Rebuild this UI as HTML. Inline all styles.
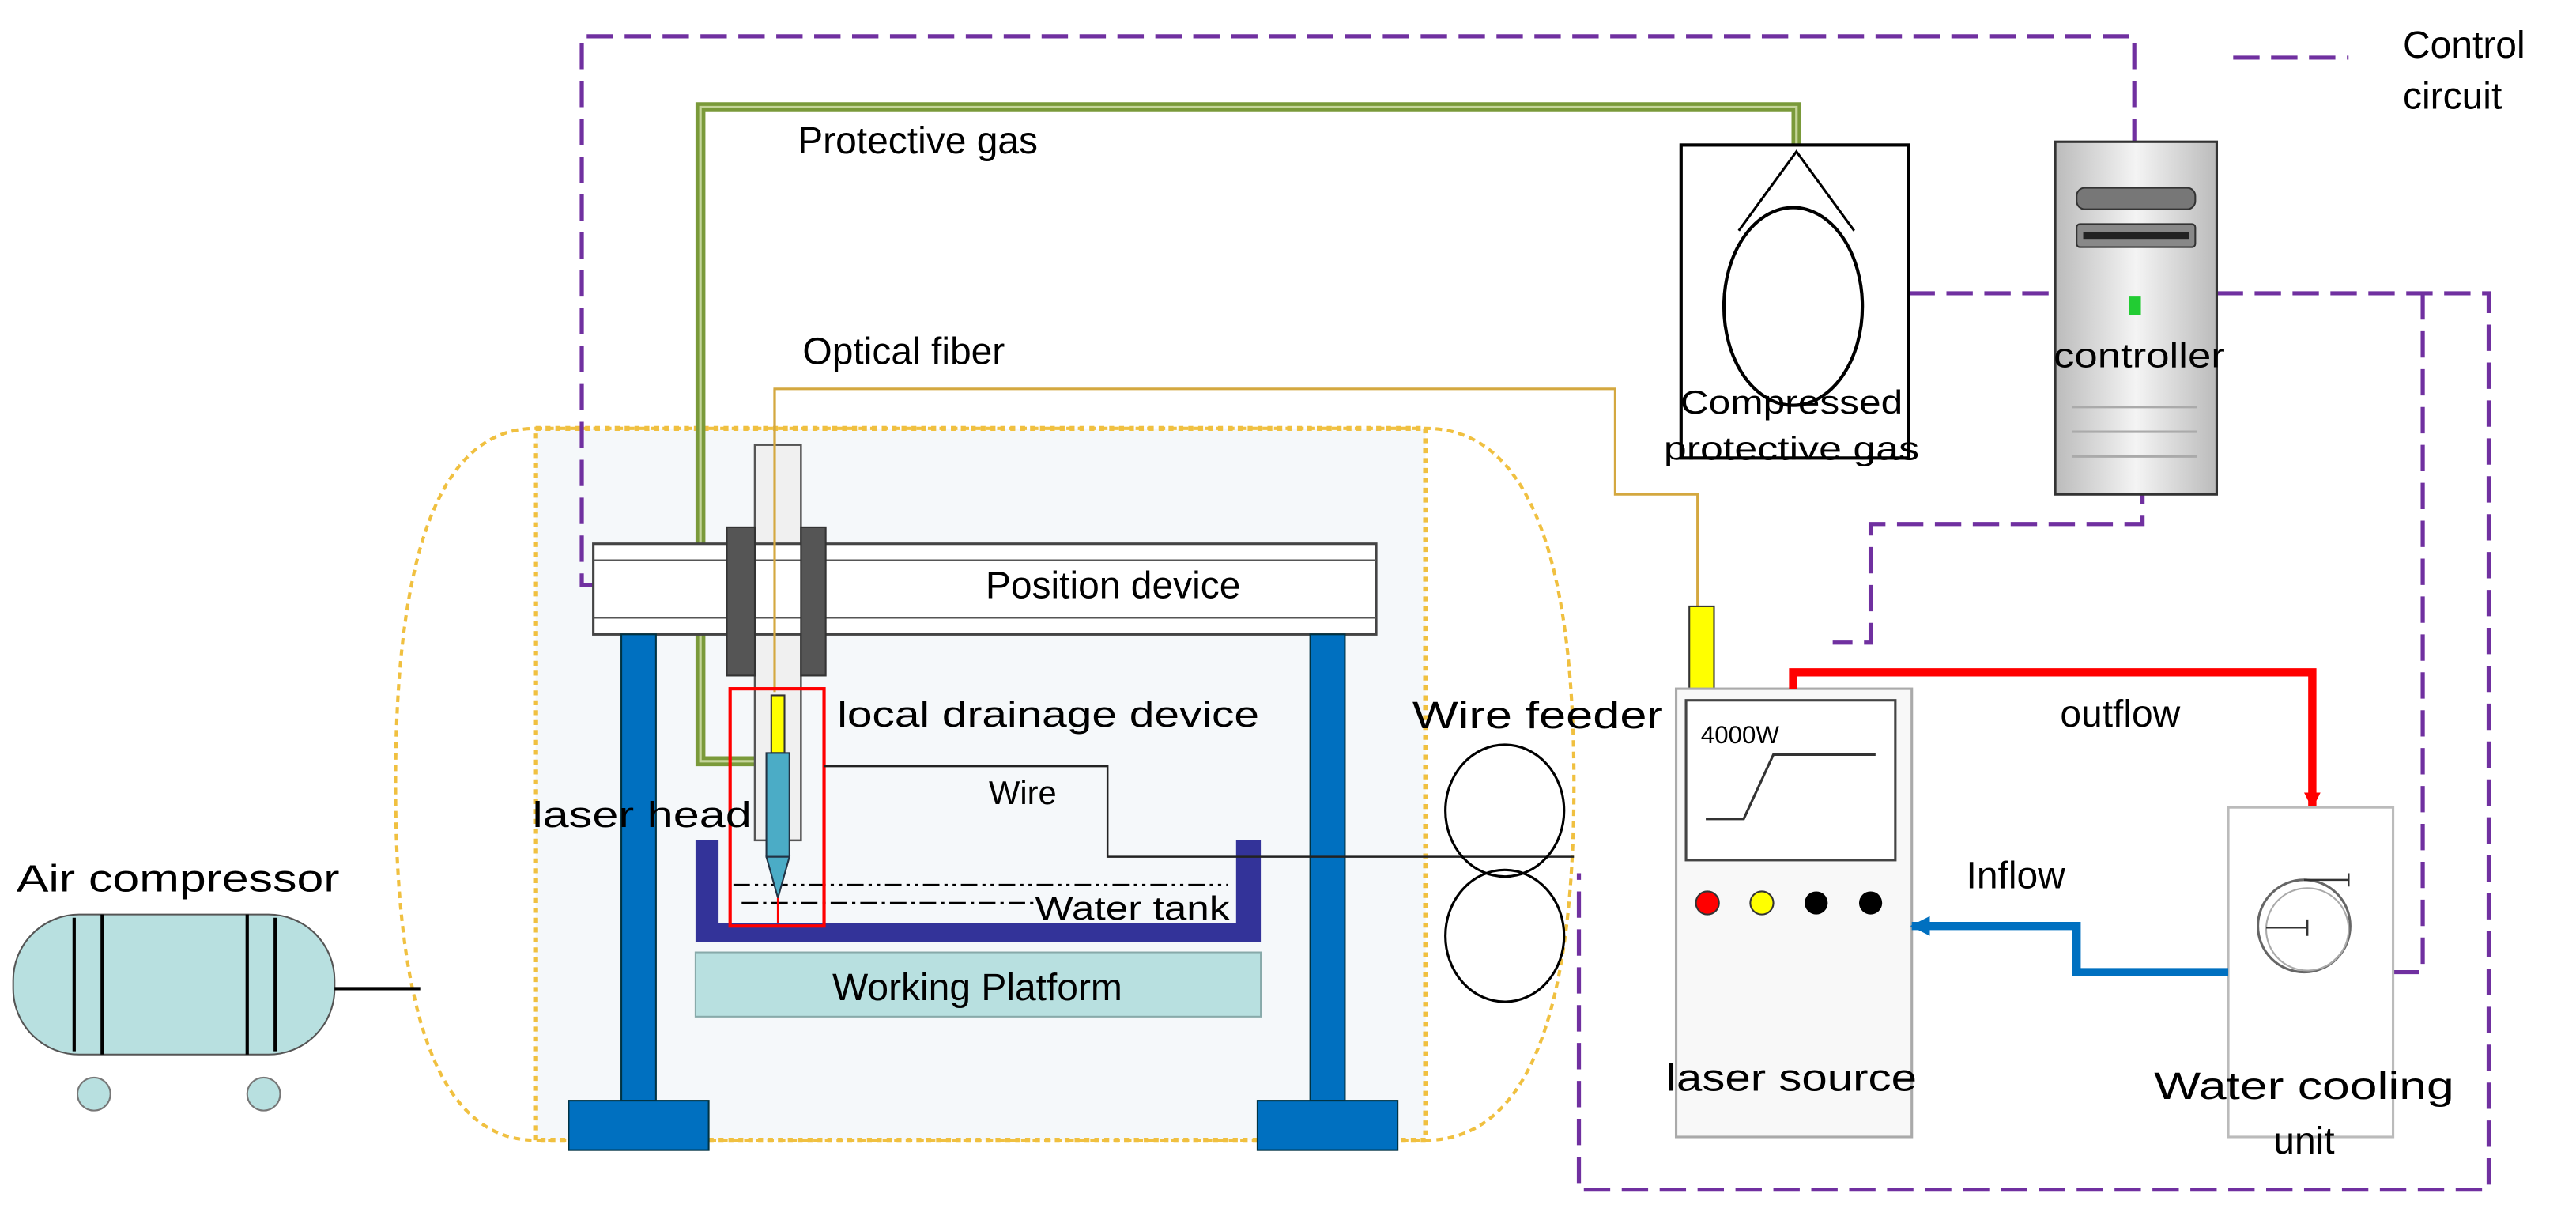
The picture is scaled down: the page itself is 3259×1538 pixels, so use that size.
<!DOCTYPE html>
<html><head><meta charset="utf-8"><style>html,body{margin:0;padding:0;background:#fff}svg{display:block}text{font-family:"Liberation Sans",sans-serif;fill:#000}</style></head>
<body>
<svg width="3259" height="1538" viewBox="0 0 1563 738" preserveAspectRatio="none" xmlns="http://www.w3.org/2000/svg">
<defs>
<linearGradient id="g1" x1="0" x2="1"><stop offset="0" stop-color="#bbb"/><stop offset="0.5" stop-color="#f4f4f4"/><stop offset="1" stop-color="#bbb"/></linearGradient>
<marker id="ar" markerWidth="10" markerHeight="14" refX="9" refY="7" orient="auto" markerUnits="userSpaceOnUse"><path d="M0,2 L10,7 L0,12z" fill="#f00"/></marker>
<marker id="ab" markerWidth="12" markerHeight="14" refX="11" refY="7" orient="auto" markerUnits="userSpaceOnUse"><path d="M0,1 L12,7 L0,13z" fill="#0070c0"/></marker>
</defs>
<rect x="325" y="260" width="540" height="432" fill="#f5f8fa"/>
<path d="M325,260 L865,260 Q955,260 955,476 Q955,692 865,692 L325,692 Q240,692 240,476 Q240,260 325,260Z" fill="none" stroke="#f0c040" stroke-width="2" stroke-dasharray="4,3"/>
<rect x="325" y="260" width="540" height="432" fill="none" stroke="#f0c040" stroke-width="3" stroke-dasharray="3,3"/>
<g fill="none" stroke="#7030a0" stroke-width="2.5" stroke-dasharray="16,7">
<path d="M1295,88 L1295,22 L353,22 L353,355 L360,355"/>
<path d="M1158,178 L1247,178"/>
<path d="M1345,178 L1510,178 L1510,722 L958,722 L958,530"/>
<path d="M1470,178 L1470,590 L1452,590"/>
<path d="M1300,290 L1300,318 L1135,318 L1135,390 L1112,390"/>
<path d="M1355,35 L1425,35"/>
</g>
<text x="1458" y="35" font-size="23">Control</text>
<text x="1458" y="66" font-size="23">circuit</text>
<path d="M1090,92 L1090,65 L425,65 L425,462 L470,462" fill="none" stroke="#7a9a3a" stroke-width="6"/>
<path d="M1090,92 L1090,65 L425,65 L425,462 L470,462" fill="none" stroke="#c5d59a" stroke-width="1.5"/>
<text x="484" y="93" font-size="23">Protective gas</text>
<rect x="1020" y="88" width="138" height="190" fill="#fff" stroke="#000" stroke-width="2"/>
<path d="M1055,140 L1090,92 L1125,140" fill="none" stroke="#000" stroke-width="1.5"/>
<ellipse cx="1088" cy="186" rx="42" ry="60" fill="none" stroke="#000" stroke-width="2"/>
<text x="1087" y="251" font-size="20" text-anchor="middle" textLength="135" lengthAdjust="spacingAndGlyphs">Compressed</text>
<text x="1087" y="279" font-size="20" text-anchor="middle" textLength="155" lengthAdjust="spacingAndGlyphs">protective gas</text>
<rect x="1247" y="86" width="98" height="214" fill="url(#g1)" stroke="#333" stroke-width="1.5"/>
<rect x="1260" y="114" width="72" height="13" rx="5" fill="#777" stroke="#333"/>
<rect x="1260" y="136" width="72" height="14" rx="2" fill="#888" stroke="#333"/>
<rect x="1264" y="141" width="64" height="4" fill="#222"/>
<rect x="1292" y="180" width="7" height="11" fill="#22cc33"/>
<text x="1298" y="223" font-size="21" text-anchor="middle" textLength="104" lengthAdjust="spacingAndGlyphs">controller</text>
<path d="M1257,247 H1333 M1257,262 H1333 M1257,277 H1333" stroke="#aaa" stroke-width="1.5"/>
<text x="487" y="221" font-size="23">Optical fiber</text>
<path d="M470,420 L470,236 L980,236 L980,300 L1030,300 L1030,368" fill="none" stroke="#d4a840" stroke-width="1.5"/>
<rect x="1025" y="368" width="15" height="52" fill="#ffff00" stroke="#333"/>
<rect x="458" y="270" width="28" height="240" fill="#f0f0f0" stroke="#555" stroke-width="1.2"/>
<rect x="360" y="330" width="475" height="55" fill="#fff" stroke="#444" stroke-width="1.5"/>
<path d="M360,340 H835 M360,375 H835" stroke="#555" stroke-width="1"/>
<rect x="441" y="320" width="17" height="90" fill="#555" stroke="#333"/>
<rect x="486" y="320" width="15" height="90" fill="#555" stroke="#333"/>
<path d="M470,236 L470,420" stroke="#d4a840" stroke-width="1.5"/>
<text x="598" y="363" font-size="23">Position device</text>
<rect x="377" y="385" width="21" height="283" fill="#0070c0" stroke="#034"/>
<rect x="345" y="668" width="85" height="30" fill="#0070c0" stroke="#034"/>
<rect x="795" y="385" width="21" height="283" fill="#0070c0" stroke="#034"/>
<rect x="763" y="668" width="85" height="30" fill="#0070c0" stroke="#034"/>
<path d="M422,510 H436 V560 H750 V510 H765 V572 H422Z" fill="#333399"/>
<path d="M445,537 H745" stroke="#000" stroke-dasharray="10,3,2,3,2,3" stroke-width="1.2"/>
<path d="M450,548 H630" stroke="#000" stroke-dasharray="10,3,2,3" stroke-width="1.2"/>
<text x="628" y="558" font-size="20" textLength="118" lengthAdjust="spacingAndGlyphs">Water tank</text>
<rect x="422" y="578" width="343" height="39" fill="#b8e0e0" stroke="#8aa"/>
<text x="593" y="607" font-size="23" text-anchor="middle">Working Platform</text>
<rect x="468" y="422" width="8" height="35" fill="#ffff00" stroke="#333"/>
<rect x="465" y="457" width="14" height="63" fill="#4bacc6" stroke="#234"/>
<path d="M465,520 L479,520 L472,545Z" fill="#4bacc6" stroke="#234"/>
<path d="M472,545 L472,560" stroke="#f00" stroke-width="1.2"/>
<rect x="443" y="418" width="57" height="144" fill="none" stroke="#f00" stroke-width="2"/>
<text x="508" y="441" font-size="22" textLength="256" lengthAdjust="spacingAndGlyphs">local drainage device</text>
<path d="M500,465 L672,465 L672,520 L955,520" fill="none" stroke="#222" stroke-width="1.2"/>
<text x="600" y="488" font-size="20">Wire</text>
<text x="323" y="502" font-size="22" textLength="133" lengthAdjust="spacingAndGlyphs">laser head</text>
<ellipse cx="913" cy="492" rx="36" ry="40" fill="none" stroke="#000" stroke-width="1.5"/>
<ellipse cx="913" cy="568" rx="36" ry="40" fill="none" stroke="#000" stroke-width="1.5"/>
<text x="857" y="442" font-size="23" textLength="152" lengthAdjust="spacingAndGlyphs">Wire feeder</text>
<rect x="8" y="555" width="195" height="85" rx="40" fill="#b8e0e0" stroke="#555"/>
<path d="M45,557 V638 M62,555 V640 M150,555 V640 M167,557 V638" stroke="#000" stroke-width="2"/>
<circle cx="57" cy="664" r="10" fill="#b8e0e0" stroke="#777"/>
<circle cx="160" cy="664" r="10" fill="#b8e0e0" stroke="#777"/>
<path d="M203,600 L255,600" stroke="#000" stroke-width="2"/>
<text x="10" y="541" font-size="23" textLength="196" lengthAdjust="spacingAndGlyphs">Air compressor</text>
<rect x="1017" y="418" width="143" height="272" fill="#f8f8f8" stroke="#aaa" stroke-width="1.5"/>
<rect x="1023" y="425" width="127" height="97" fill="#fff" stroke="#444" stroke-width="1.5"/>
<text x="1032" y="451" font-size="15">4000W</text>
<path d="M1035,497 H1058 L1076,458 H1138" fill="none" stroke="#333" stroke-width="1.5"/>
<circle cx="1036" cy="548" r="7" fill="#f00" stroke="#333"/>
<circle cx="1069" cy="548" r="7" fill="#ff0" stroke="#333"/>
<circle cx="1102" cy="548" r="7" fill="#000"/>
<circle cx="1135" cy="548" r="7" fill="#000"/>
<text x="1087" y="662" font-size="23" text-anchor="middle" textLength="152" lengthAdjust="spacingAndGlyphs">laser source</text>
<path d="M1088,418 L1088,408 L1403,408 L1403,490" fill="none" stroke="#f00" stroke-width="5" marker-end="url(#ar)"/>
<text x="1250" y="441" font-size="23">outflow</text>
<rect x="1352" y="490" width="100" height="200" fill="#fff" stroke="#bbb" stroke-width="1.5"/>
<circle cx="1398" cy="562" r="28" fill="none" stroke="#666" stroke-width="1.5"/>
<circle cx="1400" cy="564" r="25" fill="none" stroke="#aaa" stroke-width="1"/>
<path d="M1398,534 L1425,534 M1425,530 V538 M1375,563 H1400 M1400,558 V568" stroke="#333" stroke-width="1.2"/>
<text x="1398" y="667" font-size="23" text-anchor="middle" textLength="182" lengthAdjust="spacingAndGlyphs">Water cooling</text>
<text x="1398" y="700" font-size="23" text-anchor="middle">unit</text>
<path d="M1352,590 L1260,590 L1260,562 L1160,562" fill="none" stroke="#0070c0" stroke-width="5" marker-end="url(#ab)"/>
<text x="1193" y="539" font-size="23">Inflow</text>
</svg>
</body></html>
